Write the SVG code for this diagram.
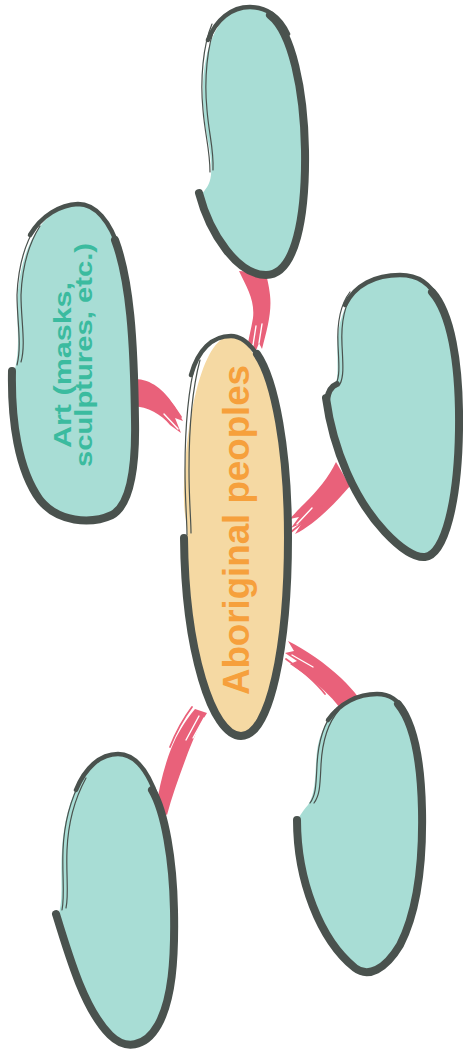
<svg xmlns="http://www.w3.org/2000/svg" width="463" height="1062" viewBox="0 0 463 1062">
<style>
.bg{fill:#ffffff}
.teal{fill:#a8ddd5}
.peach{fill:#f5d9a3}
.thick{fill:none;stroke:#4a524e;stroke-width:8;stroke-linecap:round}
.med{fill:none;stroke:#4a524e;stroke-width:4.5;stroke-linecap:round}
.thin{fill:none;stroke:#4a524e;stroke-width:1.2;stroke-linecap:round}
.brush{fill:#e9617a}
.strand{fill:none;stroke:#e9617a;stroke-width:1.8;stroke-linecap:round}
.gap{fill:none;stroke:#ffffff;stroke-width:1.4;stroke-linecap:round}
.main{font-family:"Liberation Sans",Arial,sans-serif;font-weight:700;fill:#f6a03c}
.sub{font-family:"Liberation Sans",Arial,sans-serif;font-weight:700;fill:#3bbb9f}
</style>
<rect class="bg" x="0" y="0" width="463" height="1062"/>

<g id="connectors">
  <!-- top node to center -->
  <path class="brush" d="M239,271 C247,288 255,300 253,318 C251,330 248,340 247,350 L253,344 L255,353 L259,343 L262,349 C267,330 272,312 270,295 C269,285 267,279 266,273 Z"/>
  <path class="gap" d="M256,326 L253,345"/>
  <path class="gap" d="M262,324 L259,343"/>
  <!-- art to center -->
  <path class="brush" d="M133,379 C150,378 164,390 173,404 C177,410 180,416 183,421 L175,418 L181,433 L170,425 C161,414 148,407 133,406 Z"/>
  <path class="gap" d="M164,414 L178,429"/>
  <path class="strand" d="M150,384 C163,392 173,404 181,417"/>
  <!-- right node to center -->
  <path class="brush" d="M336,462 C329,477 317,491 305,503 C299,509 294,514 290,519 L299,517 L291,528 L302,523 L295,534 C312,526 332,507 350,486 Z"/>
  <path class="gap" d="M312,508 L297,524"/>
  <path class="strand" d="M322,506 C311,516 300,525 291,532"/>
  <!-- center to bottom-right node -->
  <path class="brush" d="M288,641 C306,650 325,663 341,678 C348,685 354,691 358,697 L340,708 C331,696 317,683 300,671 L290,664 L297,661 L285,653 L294,651 Z"/>
  <path class="gap" d="M292,655 L313,667"/>
  <path class="strand" d="M286,659 C300,669 315,681 325,694"/>
  <!-- center to bottom-left node -->
  <path class="brush" d="M207,713 C198,727 192,742 186,758 C179,777 172,796 167,815 L156,808 C159,788 164,767 171,749 C177,734 185,721 195,709 Z"/>
  <path class="gap" d="M199,716 L186,740"/>
  <path class="gap" d="M204,718 L193,738"/>
  <path class="strand" d="M192,707 C183,719 176,732 170,747"/>
</g>

<g id="n_top">
  <path class="teal" d="M201,195 C212,235 238,275 266,275 C296,275 306,215 305,150 C304,75 285,7 250,7 C218,7 201,50 203,100 C204,135 213,150 211,175 C210,185 205,190 201,195 Z"/>
  <path class="thick" d="M199,193 C210,235 238,275 266,275 C296,275 306,215 305,150 C304,90 292,32 270,15"/>
  <path class="med" d="M288,34 C280,16 266,7 250,7 C231,7 216,20 208,40"/>
  <path class="thin" d="M212,24 C203,45 200,80 203,110 C205,135 210,150 210,172"/>
  <path class="thin" d="M216,24 C207,45 204,80 207,110 C209,135 214,150 213,170"/>
</g>

<g id="n_right">
  <path class="teal" d="M328,400 C335,450 355,500 385,532 C400,548 415,558 425,557 C445,555 458,500 459,430 C460,340 440,275 400,275 C362,275 342,300 338,335 C336,360 340,378 334,388 C331,393 328,396 328,400 Z"/>
  <path class="thick" d="M326,398 C333,450 355,500 385,532 C400,548 415,558 425,557 C445,555 458,500 459,430 C460,360 450,312 432,292"/>
  <path class="thick" d="M327,400 C328,392 332,386 337,384" style="stroke-width:6"/>
  <path class="med" d="M440,302 C430,283 418,275 400,275 C375,275 355,285 345,305"/>
  <path class="thin" d="M350,292 C340,305 337,325 338,345 C339,365 340,376 336,384"/>
  <path class="thin" d="M354,292 C344,305 341,325 342,345 C343,365 344,376 340,384"/>
</g>

<g id="n_art">
  <path class="teal" d="M14,373 C12,420 18,470 40,500 C58,522 90,525 112,515 C130,505 136,470 135,420 C134,330 128,260 105,220 C95,205 80,203 70,206 C40,212 22,250 18,290 C15,320 22,345 14,373 Z"/>
  <path class="thick" d="M12,371 C11,420 18,470 40,500 C58,522 90,525 112,515 C130,505 136,470 135,420 C134,340 130,280 115,240"/>
  <path class="med" d="M120,252 C110,220 95,204 78,204 C60,205 42,215 30,235"/>
  <path class="thin" d="M36,226 C24,245 18,270 17,295 C17,320 22,345 17,365"/>
  <path class="thin" d="M40,226 C28,245 22,270 21,295 C21,320 26,345 21,362"/>
  <text class="sub" font-size="23" text-anchor="middle" textLength="166" lengthAdjust="spacingAndGlyphs" transform="translate(71,365) rotate(-90)" x="0" y="0">Art (masks,</text>
  <text class="sub" font-size="23" text-anchor="middle" textLength="224" lengthAdjust="spacingAndGlyphs" transform="translate(92,355) rotate(-90)" x="0" y="0">sculptures, etc.)</text>
</g>

<g id="n_center">
  <path class="peach" d="M186,540 C186,650 212,736 241,736 C270,736 288,647 288,537 C288,426 260,336 231,336 C202,336 184,425 184,500 C184,520 190,530 186,540 Z"/>
  <path class="thick" d="M184,538 C185,650 212,736 241,736 C270,736 288,647 288,537 C288,450 275,380 257,354"/>
  <path class="med" d="M263,364 C253,346 243,336 231,336 C212,336 198,350 191,375"/>
  <path class="thin" d="M196,360 C188,390 185,430 185,470 C185,500 187,520 187,535"/>
  <path class="thin" d="M200,360 C192,390 189,430 189,470 C189,500 191,520 191,533"/>
  <text class="main" font-size="37" text-anchor="middle" textLength="330" lengthAdjust="spacingAndGlyphs" transform="translate(236,530) rotate(-90)" x="0" y="13">Aboriginal peoples</text>
</g>

<g id="n_br">
  <path class="teal" d="M297,823 C297,880 320,940 355,968 C368,978 385,970 400,945 C418,910 423,860 422,810 C421,740 405,694 377,694 C345,694 325,715 318,745 C314,765 318,790 308,805 C302,812 298,818 297,823 Z"/>
  <path class="thick" d="M297,820 C297,880 320,940 355,968 C368,978 385,970 400,945 C418,910 423,860 422,810 C421,760 413,722 398,704"/>
  <path class="med" d="M405,712 C398,700 390,694 377,694 C358,694 340,703 328,720"/>
  <path class="thin" d="M335,710 C322,725 318,745 317,765 C316,785 316,795 310,803"/>
  <path class="thin" d="M339,710 C326,725 322,745 321,765 C320,785 320,795 314,803"/>
</g>

<g id="n_bl">
  <path class="teal" d="M58,916 C70,960 85,1010 110,1035 C125,1050 145,1048 158,1025 C172,1000 175,960 174,910 C173,830 155,754 118,754 C85,754 65,800 62,850 C60,875 64,900 58,916 Z"/>
  <path class="thick" d="M56,914 C70,960 85,1010 110,1035 C125,1050 145,1048 158,1025 C172,1000 175,960 174,910 C173,860 165,812 152,790"/>
  <path class="med" d="M158,800 C148,770 135,754 118,754 C100,754 85,768 76,790"/>
  <path class="thin" d="M82,778 C70,800 64,825 63,850 C62,875 65,895 62,910"/>
  <path class="thin" d="M86,778 C74,800 68,825 67,850 C66,875 69,895 66,908"/>
</g>
</svg>
